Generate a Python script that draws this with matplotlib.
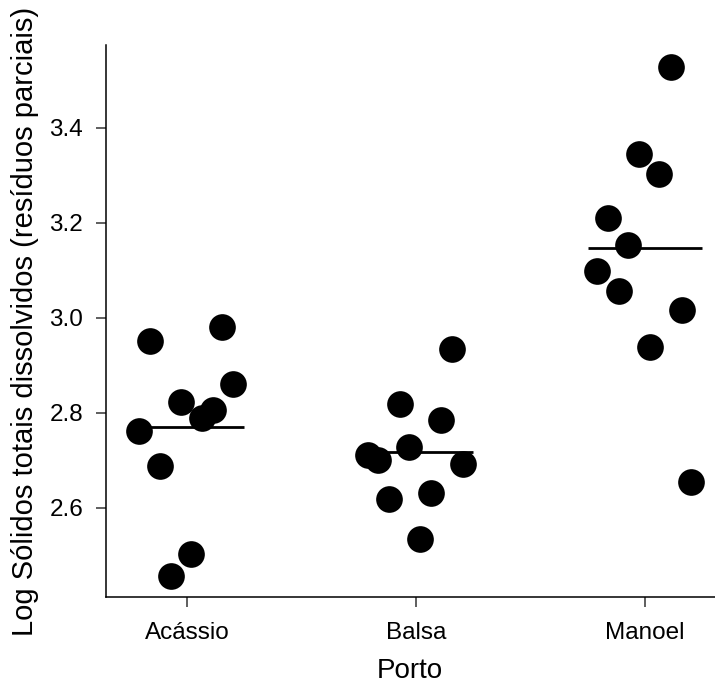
import matplotlib
matplotlib.use("Agg")
import matplotlib.pyplot as plt

plt.rcParams['font.family'] = ['Liberation Sans', 'DejaVu Sans']

categories = ["Acássio", "Balsa", "Manoel"]
cat_pos = [1, 2, 3]

# jittered x positions (data units) and values per group
x_acassio = [0.838, 1.154, 1.201, 0.974, 1.112, 1.064, 0.792, 0.881, 1.017, 0.929]
y_acassio = [2.951, 2.981, 2.860, 2.822, 2.805, 2.788, 2.761, 2.688, 2.502, 2.457]

x_balsa = [2.156, 1.930, 2.109, 1.971, 1.792, 1.835, 2.204, 2.066, 1.883, 2.017]
y_balsa = [2.934, 2.818, 2.784, 2.728, 2.711, 2.700, 2.691, 2.632, 2.619, 2.535]

x_manoel = [3.112, 2.975, 3.062, 2.840, 2.928, 2.792, 2.887, 3.160, 3.022, 3.201]
y_manoel = [3.528, 3.344, 3.302, 3.209, 3.154, 3.098, 3.056, 3.017, 2.939, 2.654]

group_means = [2.770, 2.717, 3.147]

y_ticks = [2.6, 2.8, 3.0, 3.2, 3.4]
y_ticklabels = ["2.6", "2.8", "3.0", "3.2", "3.4"]

fig = plt.figure(figsize=(7.15, 6.86), dpi=100)
ax = fig.add_axes([0.1476, 0.1297, 0.8524, 0.8047])

for xs, ys in [(x_acassio, y_acassio), (x_balsa, y_balsa), (x_manoel, y_manoel)]:
    ax.scatter(xs, ys, s=369, color="black", linewidths=0, zorder=3)

for p, m in zip(cat_pos, group_means):
    ax.plot([p - 0.25, p + 0.25], [m, m], color="black", lw=2.0, zorder=2,
            solid_capstyle="butt")

ax.set_xlim(0.644, 3.306)
ax.set_ylim(2.412, 3.574)

ax.set_xticks(cat_pos)
ax.set_xticklabels(categories)
ax.set_yticks(y_ticks)
ax.set_yticklabels(y_ticklabels)

for side in ["top", "right"]:
    ax.spines[side].set_visible(False)
for side in ["left", "bottom"]:
    ax.spines[side].set_linewidth(1.1)

ax.tick_params(axis="both", length=7.2, width=1.1, labelsize=17.5, color="#333333")
ax.tick_params(axis="y", pad=9)
ax.tick_params(axis="x", pad=11)

ax.set_xlabel("Porto", fontsize=20, labelpad=10)
ax.set_ylabel("Log Sólidos totais dissolvidos (resíduos parciais)", fontsize=21,
              labelpad=7)

fig.savefig("out.png", dpi=100)
